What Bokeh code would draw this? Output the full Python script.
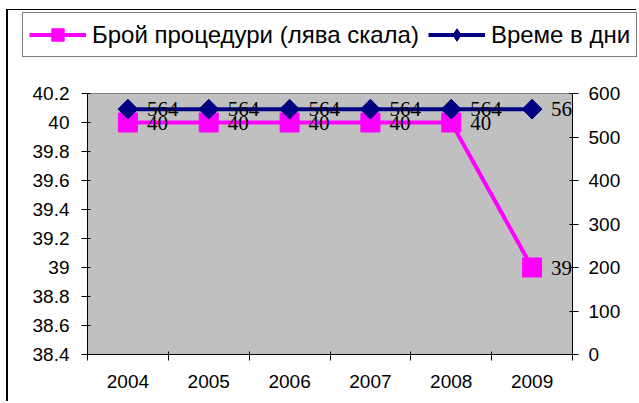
import math
from bokeh.plotting import figure
from bokeh.models import (ColumnDataSource, Range1d, LinearAxis, FixedTicker,
                          LabelSet, Legend, LegendItem)
from bokeh.core.properties import value
from bokeh.embed import file_html
from bokeh.resources import INLINE

years = ["2004", "2005", "2006", "2007", "2008", "2009"]
procedures = [40, 40, 40, 40, 40, 39]
days = [564, 564, 564, 564, 564, 564]
left_ticks = [38.4, 38.6, 38.8, 39.0, 39.2, 39.4, 39.6, 39.8, 40.0, 40.2]
left_tick_labels = ["38.4", "38.6", "38.8", "39", "39.2", "39.4", "39.6", "39.8", "40", "40.2"]
right_ticks = [0, 100, 200, 300, 400, 500, 600]
series_names = ["Брой процедури (лява скала)", "Време в дни"]

PINK = "#FF00FF"
NAVY = "#000080"
FONT = "Liberation Sans"

xs = [i + 0.5 for i in range(len(years))]
bounds = list(range(len(years) + 1))

src = ColumnDataSource(dict(
    x=xs, proc=procedures, days=days,
    proc_txt=[str(v) for v in procedures],
    days_txt=[str(v) for v in days],
))

# ---------- legend strip (separate root so its frame spans the whole canvas) ----------
lg = figure(width=630, height=60, output_backend="svg", toolbar_location=None,
            title=None, x_axis_type=None, y_axis_type=None,
            x_range=Range1d(0, 1), y_range=Range1d(0, 1),
            min_border=0, min_border_left=0, min_border_right=0,
            min_border_top=0, min_border_bottom=0)
lg.outline_line_color = None
lg.grid.visible = False
lg.background_fill_color = "white"
lg.border_fill_color = "white"
nan = float("nan")
legend_src = ColumnDataSource(dict(x=[nan], y=[nan]))
d_l1 = lg.line("x", "y", source=legend_src, line_color=PINK, line_width=4)
d_m1 = lg.scatter("x", "y", source=legend_src, marker="square", fill_color=PINK, line_color=PINK)
d_l2 = lg.line("x", "y", source=legend_src, line_color=NAVY, line_width=4)
d_m2 = lg.scatter("x", "y", source=legend_src, marker="diamond", fill_color=NAVY, line_color=NAVY)
legend = Legend(items=[LegendItem(label=series_names[0], renderers=[d_l1, d_m1]),
                       LegendItem(label=series_names[1], renderers=[d_l2, d_m2])],
                orientation="horizontal", location=(14, 13),
                glyph_width=57, glyph_height=31, label_standoff=6, spacing=9,
                padding=6, margin=0,
                label_text_font=FONT, label_text_font_size="24px",
                label_text_color="black",
                border_line_color="black", border_line_width=1,
                background_fill_color="white", background_fill_alpha=1)
lg.add_layout(legend, "center")
lg.styles = {"border-left": "2px solid black", "border-top": "1px solid black",
             "margin-left": "6px", "margin-top": "9px"}

# ---------- main chart ----------
p = figure(width=630, height=332, output_backend="svg", toolbar_location=None,
           title=None,
           x_range=Range1d(0, len(years)), y_range=Range1d(38.4, 40.2),
           min_border_left=79, min_border_right=66, min_border_top=24,
           min_border_bottom=47)
p.background_fill_color = "#C0C0C0"
p.border_fill_color = "white"
p.outline_line_color = "#808080"
p.grid.visible = False
p.extra_y_ranges = {"days": Range1d(0, 600)}
p.styles = {"border-left": "2px solid black", "margin-left": "6px"}

xa = p.xaxis[0]
xa.ticker = FixedTicker(ticks=xs, minor_ticks=bounds)
xa.major_label_overrides = {x: y for x, y in zip(xs, years)}
xa.major_tick_in = 0
xa.major_tick_out = 0
xa.minor_tick_in = 3
xa.minor_tick_out = 6
xa.minor_tick_line_color = "black"
xa.major_label_standoff = 14

ya = p.yaxis[0]
ya.ticker = FixedTicker(ticks=left_ticks, minor_ticks=[])
ya.major_label_overrides = {t: s for t, s in zip(left_ticks, left_tick_labels)}
ya.major_tick_in = 3
ya.major_tick_out = 6
ya.major_label_standoff = 12

ra = LinearAxis(y_range_name="days", ticker=FixedTicker(ticks=right_ticks, minor_ticks=[]))
ra.major_tick_in = 3
ra.major_tick_out = 6
ra.major_label_standoff = 10
p.add_layout(ra, "right")

for ax in (xa, ya, ra):
    ax.axis_line_color = "black"
    ax.major_tick_line_color = "black"
    ax.major_label_text_font = FONT
    ax.major_label_text_font_size = "19px"
    ax.major_label_text_color = "black"

p.line("x", "proc", source=src, line_color=PINK, line_width=4)
p.scatter("x", "proc", source=src, marker="square", size=19,
          fill_color=PINK, line_color=PINK)
p.line("x", "days", source=src, y_range_name="days", line_color=NAVY, line_width=4)
p.scatter("x", "days", source=src, y_range_name="days", marker="square", size=14,
          angle=math.pi / 4, fill_color=NAVY, line_color=NAVY)

lab1 = LabelSet(x="x", y="proc", text="proc_txt", source=src, x_offset=19,
                text_baseline="middle", text_font=value("Liberation Serif"),
                text_font_size="21px", text_color="black")
lab2 = LabelSet(x="x", y="days", text="days_txt", source=src, y_range_name="days",
                x_offset=19, text_baseline="middle", text_font=value("Liberation Serif"),
                text_font_size="21px", text_color="black")
p.add_layout(lab1)
p.add_layout(lab2)

open("out.html", "w").write(file_html([lg, p], INLINE))
